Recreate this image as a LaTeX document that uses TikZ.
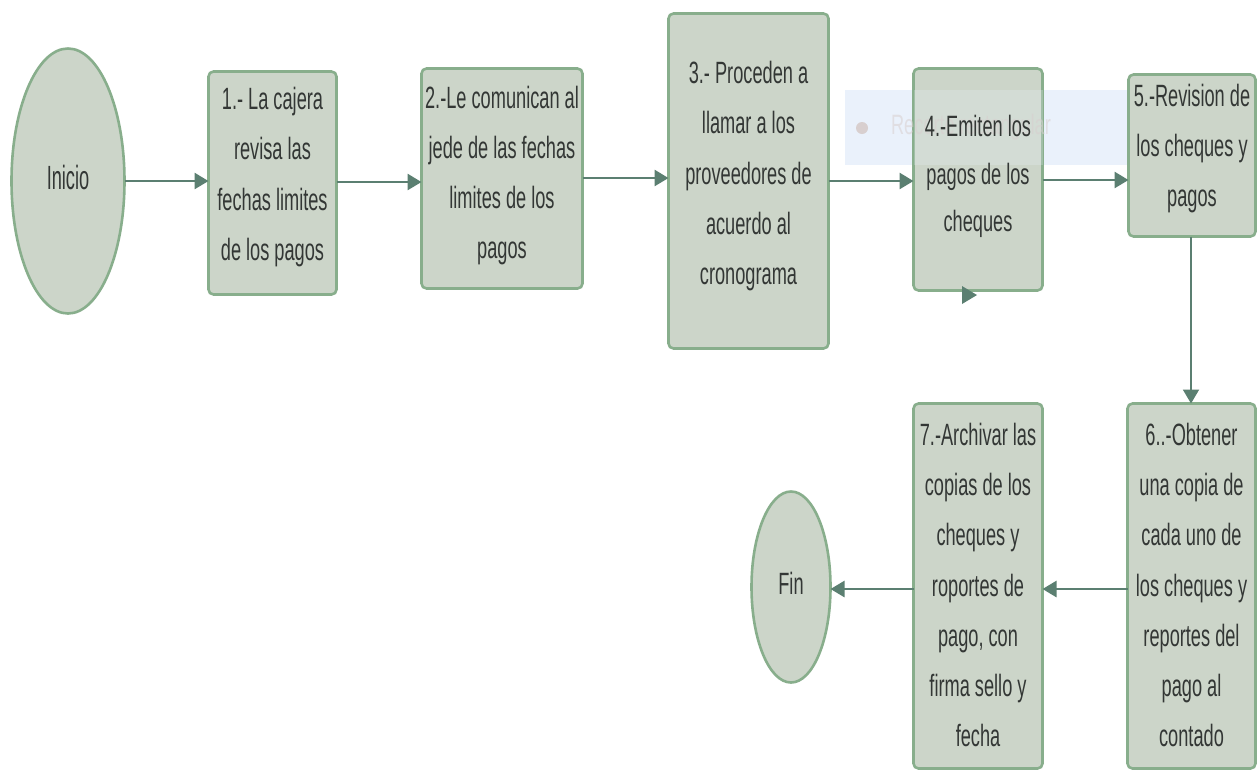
\documentclass[tikz,border=0pt]{standalone}
\usepackage{fontspec}
\usepackage{graphicx}
\setmainfont{Liberation Sans}
\usetikzlibrary{shapes.geometric,arrows.meta}

\definecolor{boxfill}{HTML}{CCD5C9}
\definecolor{boxline}{HTML}{88AE8C}
\definecolor{flow}{HTML}{5B7F71}
\definecolor{ink}{HTML}{333735}
\definecolor{selfill}{HTML}{EAF1FB}
\definecolor{ghost}{HTML}{D8CFCF}

% condensed, slightly tall, centred multi-line label
\newcommand\lbl[2][1.1]{\scalebox{0.65}[#1]{\begin{tabular}{@{}c@{}}#2\end{tabular}}}

\tikzset{
  stepbox/.style={draw=boxline, fill=boxfill, line width=2.6pt, rounded corners=5pt,
    inner sep=0pt, outer sep=0pt},
  steptext/.style={inner sep=0pt, text=ink, font=\fontsize{28}{45.5}\selectfont},
  terminal/.style={ellipse, draw=boxline, fill=boxfill, line width=2.6pt,
    inner sep=0pt, outer sep=0pt, text=ink, font=\fontsize{28}{34}\selectfont},
  flowarrow/.style={draw=flow, line width=2.6pt, -{Triangle[length=14pt,width=16pt]}},
}

\begin{document}
\begin{tikzpicture}[x=1pt, y=-1pt]
\useasboundingbox (0,0) rectangle (1258,772);
\fill[white] (0,0) rectangle (1258,772);

% selection band (behind the boxes)
\fill[selfill] (845,90) rectangle (1205,165);

% start / end
\node[terminal, minimum width=113, minimum height=265] (ini) at (68,181) {\lbl[1.2]{Inicio}};
\node[terminal, minimum width=79, minimum height=191] (fin) at (791,587) {\lbl[1.1]{Fin}};

% process steps (frames)
\node[stepbox, minimum width=128, minimum height=223] (b1) at (272.5,183) {};
\node[stepbox, minimum width=161, minimum height=220] (b2) at (502,178.5) {};
\node[stepbox, minimum width=160, minimum height=335] (b3) at (748.5,181) {};
\node[stepbox, minimum width=129, minimum height=222] (b4) at (978,179.5) {};

% the band tints step 4 where it crosses it
\fill[selfill, fill opacity=0.25] (b4.west |- 0,90) rectangle (b4.east |- 0,165);
\fill[ghost] (862,128) circle (6);
\node[text=ghost, text opacity=0.55, font=\fontsize{28}{34}\selectfont] (ghostlbl) at (971,128)
  {\lbl[1]{Recorte rectangular}};

\node[stepbox, minimum width=127, minimum height=162] (b5) at (1192,155.5) {};
\node[stepbox, minimum width=128, minimum height=365] (b6) at (1191.5,586) {};
\node[stepbox, minimum width=129, minimum height=365] (b7) at (978,586) {};

% process steps (wording)
\node[steptext, yshift=8] (t1) at (b1.center)
  {\lbl{1.- La cajera\\revisa las\\fechas limites\\de los pagos}};
\node[steptext, yshift=5] (t2) at (b2.center)
  {\lbl{2.-Le comunican al\\jede de las fechas\\limites de los\\pagos}};
\node[steptext, yshift=7] (t3) at (b3.center)
  {\lbl{3.- Proceden a\\llamar a los\\proveedores de\\acuerdo al\\cronograma}};
\node[steptext, yshift=5] (t4) at (b4.center)
  {\lbl[1.05]{4.-Emiten los\\pagos de los\\cheques}};
\node[steptext, yshift=9] (t5) at (b5.center)
  {\lbl{5.-Revision de\\los cheques y\\pagos}};
\node[steptext] (t6) at (b6.center)
  {\lbl{6..-Obtener\\una copia de\\cada uno de\\los cheques y\\reportes del\\pago al\\contado}};
\node[steptext] (t7) at (b7.center)
  {\lbl{7.-Archivar las\\copias de los\\cheques y\\roportes de\\pago, con\\firma sello y\\fecha}};

% connectors
\draw[flowarrow] (ini.east) -- (ini.east -| b1.west);
\draw[flowarrow] (b1.east |- 0,182) -- (b2.west |- 0,182);
\draw[flowarrow] (b2.east |- 0,178) -- (b3.west |- 0,178);
\draw[flowarrow] (b3.east |- 0,181) -- (b4.west |- 0,181);
\draw[flowarrow] (b4.east |- 0,180) -- (b5.west |- 0,180);
\draw[flowarrow, line width=2pt] (b5.south -| 1191,0) -- (b6.north -| 1191,0);
\draw[flowarrow] (b6.west |- 0,589) -- (b7.east |- 0,589);
\draw[flowarrow] (b7.west |- 0,589) -- (fin.east |- 0,589);

% stray arrow tip under step 4
\coordinate (tipend) at (977,295);
\fill[flow] (tipend) -- ++(-15,-9) -- ++(0,18) -- cycle;
\end{tikzpicture}
\end{document}
